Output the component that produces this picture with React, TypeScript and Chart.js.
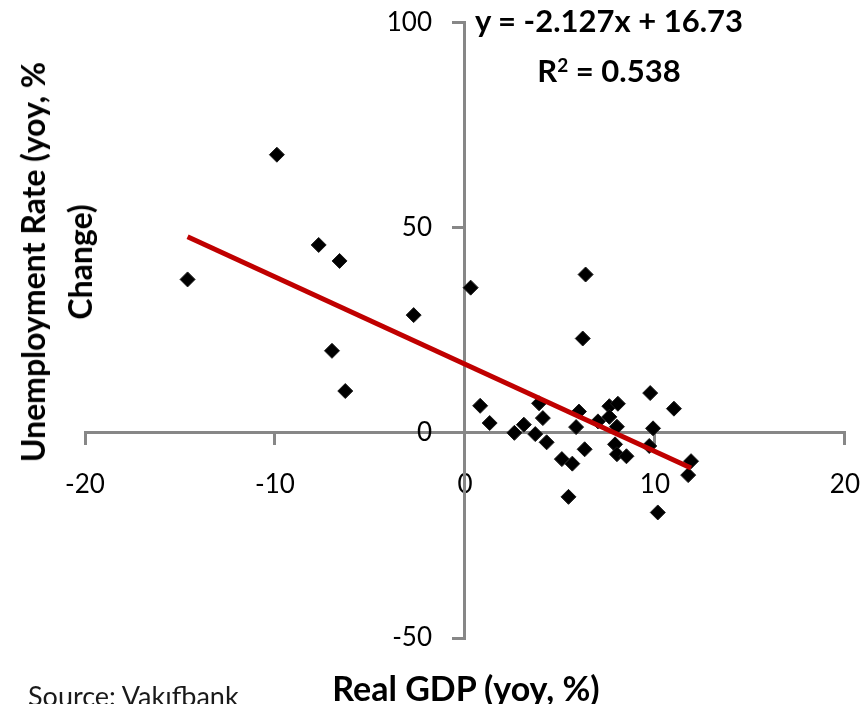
import React, { useEffect, useRef } from "react";
import { Chart, registerables } from "chart.js";

Chart.register(...registerables);

// Real GDP growth (yoy, %)
const gdpGrowth = [
  -14.6, -9.9, -7.7, -6.6, -7.0, -6.3, -2.7, 0.3,
  6.35, 6.2, 0.8, 1.3, 2.6, 3.1, 3.9, 4.1, 3.7, 4.3,
  5.1, 5.65, 5.45, 6.0, 5.85, 6.3, 7.0, 7.6, 8.05, 7.6,
  8.0, 7.9, 8.0, 8.5, 9.75, 11.0, 9.9, 9.7, 11.9, 11.75, 10.15,
];
// Unemployment rate (yoy, % change)
const unemploymentChange = [
  37.4, 67.8, 45.8, 41.9, 20.0, 10.2, 28.7, 35.4,
  38.6, 23.0, 6.6, 2.4, 0.0, 2.0, 7.2, 3.6, -0.3, -2.3,
  -6.4, -7.5, -15.6, 5.2, 1.4, -4.0, 2.8, 6.5, 7.1, 3.9,
  1.5, -2.8, -5.2, -5.7, 9.7, 5.9, 1.1, -3.2, -6.9, -10.3, -19.4,
];

const xTicks = [-20, -10, 0, 10, 20];
const yTicks = [-50, 0, 50, 100];

const trendSlope = -2.127;
const trendIntercept = 16.73;
const rSquared = 0.538;

const xTitle = "Real GDP (yoy, %)";
const yTitleLines = ["Unemployment Rate (yoy, %", "Change)"];
const sourceText = "Source: Vakıfbank";

const FONT = "Lato, 'Open Sans', 'DejaVu Sans', sans-serif";

export default function App() {
  const canvasRef = useRef<HTMLCanvasElement | null>(null);

  useEffect(() => {
    const canvas = canvasRef.current;
    if (!canvas) return;

    const points = gdpGrowth.map((x, i) => ({ x, y: unemploymentChange[i] }));
    const xMinData = Math.min(...gdpGrowth);
    const xMaxData = Math.max(...gdpGrowth);
    const trend = [xMinData, xMaxData].map((x) => ({ x, y: trendSlope * x + trendIntercept }));

    const axisGray = "#878787";

    const chart = new Chart(canvas, {
      type: "scatter",
      data: {
        datasets: [
          {
            type: "line",
            label: "Trend",
            data: trend,
            borderColor: "#C00000",
            borderWidth: 5,
            pointRadius: 0,
            fill: false,
            order: 0,
          },
          {
            label: "Observations",
            data: points,
            pointStyle: "rectRot",
            pointRadius: 7.5,
            backgroundColor: "#000000",
            borderColor: "#1c1c1c",
            borderWidth: 1,
            order: 1,
          },
        ],
      },
      options: {
        animation: false,
        responsive: true,
        maintainAspectRatio: false,
        layout: { padding: { left: 85, right: 0, top: 0, bottom: 66 } },
        plugins: {
          legend: { display: false },
          tooltip: { enabled: false },
        },
        scales: {
          x: {
            type: "linear",
            position: { y: 0 },
            min: xTicks[0],
            max: xTicks[xTicks.length - 1],
            ticks: {
              stepSize: xTicks[1] - xTicks[0],
              color: "#000000",
              padding: 25,
              font: { family: FONT, size: 26 },
              maxRotation: 0,
            },
            grid: {
              display: true,
              drawOnChartArea: false,
              drawTicks: true,
              tickLength: 11,
              tickColor: axisGray,
              tickWidth: 3,
              lineWidth: 3,
              color: axisGray,
            },
            border: { display: true, color: axisGray, width: 3 },
          },
          y: {
            type: "linear",
            position: "center",
            min: yTicks[0],
            max: yTicks[yTicks.length - 1],
            ticks: {
              stepSize: yTicks[1] - yTicks[0],
              color: "#000000",
              padding: 22,
              font: { family: FONT, size: 26 },
            },
            grid: {
              display: true,
              drawOnChartArea: false,
              drawTicks: true,
              tickLength: 11,
              tickColor: axisGray,
              tickWidth: 3,
              lineWidth: 3,
              color: axisGray,
            },
            border: { display: true, color: axisGray, width: 3 },
          },
        },
      },
    });

    return () => {
      chart.destroy();
    };
  }, []);

  const boldText: React.CSSProperties = {
    position: "absolute",
    fontFamily: FONT,
    fontWeight: 700,
    fontSize: 32,
    color: "#000",
    whiteSpace: "nowrap",
    lineHeight: 1,
  };

  return (
    <div
      style={{
        position: "absolute",
        left: 0,
        top: 0,
        width: 868,
        height: 704,
        background: "#ffffff",
        overflow: "hidden",
      }}
    >
      <div style={{ position: "absolute", left: 0, top: -15, width: 885, height: 719 }}>
        <canvas ref={canvasRef} />
      </div>
      {/* Trendline equation */}
      <div style={{ ...boldText, fontSize: 31, left: 609, top: 20, transform: "translate(-50%, -50%)" }}>
        y = {trendSlope.toFixed(3)}x + {trendIntercept.toFixed(2)}
      </div>
      <div style={{ ...boldText, fontSize: 31, left: 609, top: 70, transform: "translate(-50%, -50%)" }}>
        R<sup style={{ fontSize: 19, verticalAlign: "top", lineHeight: 1 }}>2</sup> = {rSquared.toFixed(3)}
      </div>
      {/* Y axis title */}
      <div
        style={{
          ...boldText,
          left: 56,
          top: 262,
          lineHeight: "47px",
          textAlign: "center",
          transform: "translate(-50%, -50%) rotate(-90deg)",
        }}
      >
        <div>{yTitleLines[0]}</div>
        <div>{yTitleLines[1]}</div>
      </div>
      {/* X axis title */}
      <div style={{ ...boldText, fontSize: 34, left: 466, top: 688, transform: "translate(-50%, -50%)" }}>
        {xTitle}
      </div>
      {/* Source */}
      <div
        style={{
          position: "absolute",
          left: 28,
          top: 682,
          fontFamily: FONT,
          fontSize: 27,
          lineHeight: 1,
          color: "#1a1a1a",
          whiteSpace: "nowrap",
        }}
      >
        {sourceText}
      </div>
    </div>
  );
}
